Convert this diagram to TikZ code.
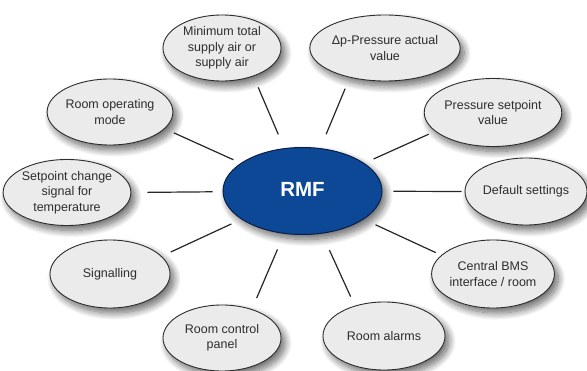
\documentclass[tikz,border=0pt]{standalone}
\usepackage{fontspec}
\setmainfont{Liberation Sans}
\usetikzlibrary{shapes.geometric,shadows.blur}
\definecolor{rmfblue}{RGB}{12,72,150}
\definecolor{rmfedge}{RGB}{10,30,70}
\definecolor{bubble}{RGB}{235,235,235}
\definecolor{txt}{RGB}{45,45,45}
\tikzset{
  bub/.style={ellipse, draw=txt, line width=0.9pt, fill=bubble, inner sep=0pt,
    text=txt, align=center, font=\fontsize{12.5}{15.5}\selectfont,
    blur shadow={shadow xshift=4pt, shadow yshift=-5pt, shadow blur steps=14, shadow blur radius=7pt, shadow opacity=60}},
  hub/.style={ellipse, draw=rmfedge, line width=1pt, fill=rmfblue, inner sep=0pt,
    text=white, font=\fontsize{20.5}{22}\selectfont\bfseries,
    blur shadow={shadow xshift=4pt, shadow yshift=-5pt, shadow blur steps=14, shadow blur radius=7pt, shadow opacity=60}},
  conn/.style={draw=black!85, line width=1.2pt}
}
\begin{document}
\begin{tikzpicture}[x=1pt,y=1pt]
\useasboundingbox (0,0) rectangle (587,370);
\node[hub, minimum width=159pt, minimum height=87pt] (rmf) at (302.5,179) {\raisebox{3.5pt}{RMF}};
\node[bub, minimum width=118pt, minimum height=66pt] (n1) at (222,322) {Minimum total\\supply air or\\supply air};
\node[bub, minimum width=120pt, minimum height=66pt] (n2) at (110,258) {Room operating\\mode};
\node[bub, minimum width=120pt, minimum height=66pt] (n3) at (67,177.5) {Setpoint change\\signal for\\temperature};
\node[bub, minimum width=120pt, minimum height=68pt] (n4) at (110,96) {Signalling};
\node[bub, minimum width=118pt, minimum height=66pt] (n5) at (222,32) {Room control\\panel};
\node[bub, minimum width=122pt, minimum height=68pt] (n6) at (384,34) {Room alarms};
\node[bub, minimum width=120pt, minimum height=68pt] (n7) at (493,96) {Central BMS\\interface / room};
\node[bub, minimum width=122pt, minimum height=67pt] (n8) at (526,178.5) {Default settings};
\node[bub, minimum width=120pt, minimum height=68pt] (n9) at (493,257.5) {Pressure setpoint\\value};
\node[bub, minimum width=124pt, minimum height=66pt] (n10) at (385,322) {Δp-Pressure actual\\value};
\draw[conn, shorten <=15pt, shorten >=12pt] (rmf) -- (n1.318);
\draw[conn, shorten <=8pt, shorten >=10pt] (rmf) -- (n2.343);
\draw[conn, shorten <=10pt, shorten >=16pt] (rmf) -- (n3.0);
\draw[conn, shorten <=11pt, shorten >=10pt] (rmf) -- (n4.19);
\draw[conn, shorten <=17pt, shorten >=12pt] (rmf) -- (n5.44);
\draw[conn, shorten <=18pt, shorten >=10pt] (rmf) -- (n6.134);
\draw[conn, shorten <=13pt, shorten >=6pt] (rmf) -- (n7.160);
\draw[conn, shorten <=11pt, shorten >=3pt] (rmf) -- (n8.180);
\draw[conn, shorten <=10pt, shorten >=7pt] (rmf) -- (n9.198);
\draw[conn, shorten <=15pt, shorten >=12pt] (rmf) -- (n10.220);
\end{tikzpicture}
\end{document}
